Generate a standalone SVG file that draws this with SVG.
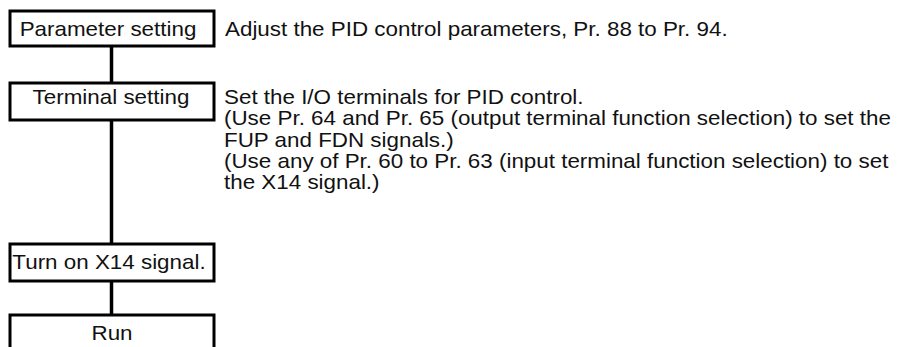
<svg xmlns="http://www.w3.org/2000/svg" width="901" height="347" viewBox="0 0 901 347">
<style>
.box{fill:#fff;stroke:#000;stroke-width:3}
.con{stroke:#000;stroke-width:3.5;fill:none}
text{font-family:"Liberation Sans",Arial,sans-serif;font-size:20px;fill:#111}
.c{text-anchor:middle}
</style>
<rect width="901" height="347" fill="#fff"/>
<g id="connectors">
<line class="con" x1="111.5" y1="47" x2="111.5" y2="82"/>
<line class="con" x1="111.5" y1="121" x2="111.5" y2="243"/>
<line class="con" x1="111.5" y1="282" x2="111.5" y2="314"/>
</g>
<g id="node-parameter">
<rect class="box" x="10" y="11" width="204" height="35"/>
<text class="c" transform="translate(108,36) scale(1.12,1)">Parameter setting</text>
</g>
<g id="node-terminal">
<rect class="box" x="10" y="83" width="204" height="37"/>
<text class="c" transform="translate(111,104) scale(1.12,1)">Terminal setting</text>
</g>
<g id="node-x14">
<rect class="box" x="10" y="244" width="204" height="37"/>
<text class="c" transform="translate(109,269) scale(1.12,1)">Turn on X14 signal.</text>
</g>
<g id="node-run">
<rect class="box" x="10" y="315" width="204" height="40"/>
<text class="c" transform="translate(112,340) scale(1.12,1)">Run</text>
</g>
<g id="notes">
<text transform="translate(225,36) scale(1.12,1)">Adjust the PID control parameters, Pr. 88 to Pr. 94.</text>
<text transform="translate(224,104) scale(1.12,1)">Set the I/O terminals for PID control.</text>
<text transform="translate(224,125.25) scale(1.12,1)">(Use Pr. 64 and Pr. 65 (output terminal function selection) to set the</text>
<text transform="translate(224,146.5) scale(1.12,1)">FUP and FDN signals.)</text>
<text transform="translate(224,167.75) scale(1.12,1)">(Use any of Pr. 60 to Pr. 63 (input terminal function selection) to set</text>
<text transform="translate(224,189) scale(1.12,1)">the X14 signal.)</text>
</g>
</svg>
